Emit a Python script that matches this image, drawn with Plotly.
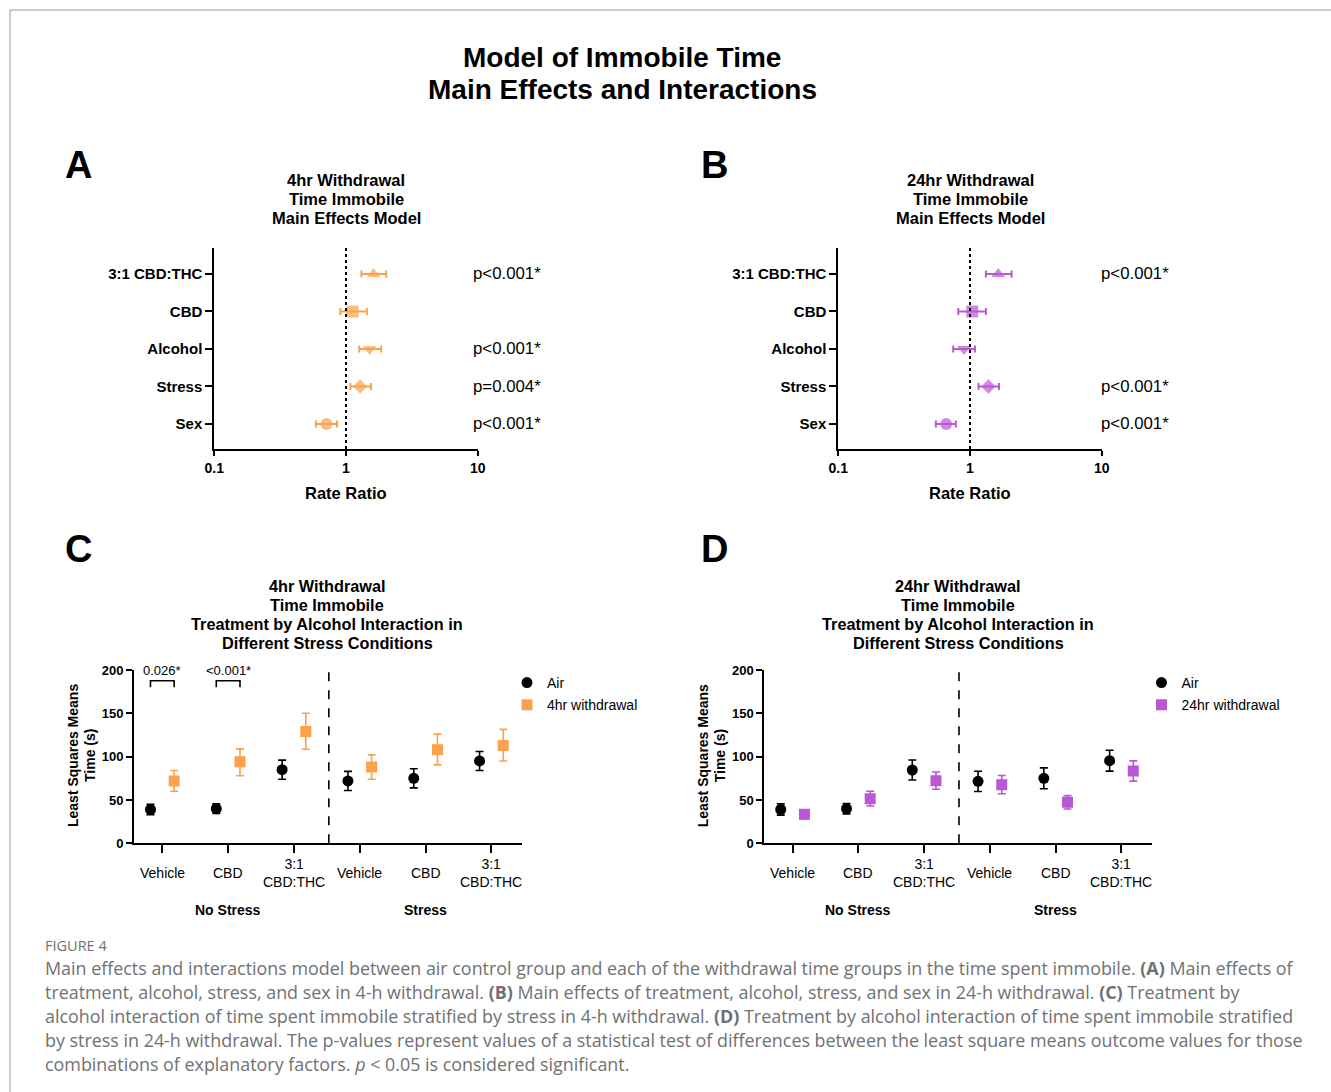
import plotly.graph_objects as go

W, H = 1331, 1092

# ---------------- data ----------------
effects = ["3:1 CBD:THC", "CBD", "Alcohol", "Stress", "Sex"]
effect_symbols = ["triangle-up", "square", "triangle-down", "diamond", "circle"]

a_rr = [1.62, 1.12, 1.51, 1.28, 0.71]
a_lo = [1.31, 0.905, 1.26, 1.08, 0.59]
a_hi = [2.02, 1.44, 1.85, 1.55, 0.855]
a_p = ["p<0.001*", "", "p<0.001*", "p=0.004*", "p<0.001*"]

b_rr = [1.64, 1.04, 0.90, 1.38, 0.66]
b_lo = [1.32, 0.815, 0.746, 1.16, 0.55]
b_hi = [2.07, 1.32, 1.09, 1.66, 0.78]
b_p = ["p<0.001*", "", "", "p<0.001*", "p<0.001*"]

treatments = ["Vehicle", "CBD", "3:1<br>CBD:THC", "Vehicle", "CBD", "3:1<br>CBD:THC"]
stress_groups = ["No Stress", "Stress"]

c_air = [39, 40, 85, 72, 75, 95]
c_air_err = [6, 5.5, 11, 11, 11, 11]
c_wd = [72, 94, 129, 88, 108, 113]
c_wd_up = [12, 15, 21, 14, 18, 18.5]
c_wd_dn = [12, 16, 20.5, 14, 17.5, 18]
c_brackets = [(0, "0.026*"), (1, "<0.001*")]

d_air = [39, 40, 84.6, 71.5, 75, 95.3]
d_air_err = [6.5, 6, 11.5, 11.7, 12, 12]
d_wd = [33.5, 51.5, 72.3, 67.7, 47.3, 83.4]
d_wd_err = [5, 8.5, 10, 10.5, 7.7, 11.7]

# ---------------- styles ----------------
ORANGE = "#F9A24B"
PURPLE = "#BA57D6"
FONT = "Liberation Sans, Arial, sans-serif"
CAP_FONT = "Open Sans, Lato, sans-serif"
CAP_COLOR = "#707173"


def px(x):
    return x / W


def py(y):
    return 1 - y / H


fig = go.Figure()


def ann(text, x, y, xref="paper", yref="paper", xanchor="center", yanchor="middle", size=14,
        family=FONT, color="black", **kw):
    fig.add_annotation(text=text, x=x, y=y, xref=xref, yref=yref, xanchor=xanchor, yanchor=yanchor,
                       showarrow=False, font=dict(family=family, size=size, color=color), **kw)


def title_lines(lines, cx, y0, step, size):
    for k, t in enumerate(lines):
        ann("<b>%s</b>" % t, px(cx), py(y0 + step * k), size=size)


# ---------------- forest plots A/B ----------------
ypos = list(range(len(effects) - 1, -1, -1))


def forest(rr, lo, hi, color, xa, ya):
    fig.add_trace(go.Scatter(
        x=rr, y=ypos, mode="markers", xaxis=xa, yaxis=ya, showlegend=False,
        marker=dict(symbol=effect_symbols, size=[12, 12, 12, 11, 12], color=color,
                    line=dict(width=0)),
        error_x=dict(type="data", symmetric=False,
                     array=[h - r for h, r in zip(hi, rr)],
                     arrayminus=[r - l for r, l in zip(rr, lo)],
                     color=color, thickness=2, width=3.5),
    ))


forest(a_rr, a_lo, a_hi, ORANGE, "x", "y")
forest(b_rr, b_lo, b_hi, PURPLE, "x2", "y2")

axis_common = dict(showline=True, linecolor="black", linewidth=2, ticks="outside",
                   tickcolor="black", tickwidth=2, showgrid=False, zeroline=False, automargin=False,
                   tickfont=dict(family=FONT, size=14, color="black", weight="bold"))

ydom_ab = [py(449), py(248)]
for i, (x0, x1) in enumerate([(214.3, 477.7), (838.3, 1101.7)]):
    xs = "" if i == 0 else "2"
    fig.update_layout(**{
        "xaxis" + xs: dict(axis_common, type="log", range=[-1, 1], domain=[px(x0), px(x1)],
                           tickvals=[0.1, 1, 10], ticktext=["0.1", "1", "10"], ticklen=5,
                           anchor="y" + xs),
        "yaxis" + xs: dict(axis_common, range=[-0.667, 4.693], domain=ydom_ab,
                           tickvals=ypos, ticktext=effects, ticklen=7, anchor="x" + xs,
                           tickfont=dict(family=FONT, size=15, color="black", weight="bold")),
    })
    fig.add_shape(type="line", xref="x" + xs, yref="y" + xs + " domain", x0=1, x1=1, y0=0, y1=1,
                  line=dict(color="black", width=2, dash="dot"))
    cx = (x0 + x1) / 2
    ann("<b>Rate Ratio</b>", px(cx), py(493), size=16.5)
    title_lines(["%s Withdrawal" % ("4hr" if i == 0 else "24hr"), "Time Immobile", "Main Effects Model"],
                cx, 180, 19, 16.5)

for ptxt, yv in zip(a_p, ypos):
    if ptxt:
        ann(ptxt, px(471), yv, yref="y", xanchor="left", size=16.8)
for ptxt, yv in zip(b_p, ypos):
    if ptxt:
        ann(ptxt, px(1099), yv, yref="y2", xanchor="left", size=16.8)

# ---------------- interaction plots C/D ----------------
cats = list(range(len(treatments)))
OFF = 0.18
x_air = [c - OFF for c in cats]
x_wd = [c + OFF for c in cats]


def interaction(air, air_err, wd, wd_up, wd_dn, color, wname, xa, ya, leg):
    fig.add_trace(go.Scatter(
        x=x_air, y=air, mode="markers", name="Air", xaxis=xa, yaxis=ya, legend=leg,
        legendgroup=leg + "a",
        marker=dict(symbol="circle", size=11, color="black"),
        error_y=dict(type="data", array=air_err, color="black", thickness=1.6, width=4),
    ))
    fig.add_trace(go.Scatter(
        x=x_wd, y=wd, mode="markers", name=wname, xaxis=xa, yaxis=ya, legend=leg,
        legendgroup=leg + "b",
        marker=dict(symbol="square", size=11, color=color),
        error_y=dict(type="data", symmetric=False, array=wd_up, arrayminus=wd_dn,
                     color=color, thickness=1.6, width=4),
    ))


interaction(c_air, c_air_err, c_wd, c_wd_up, c_wd_dn, ORANGE, "4hr withdrawal", "x3", "y3", "legend")
interaction(d_air, d_air_err, d_wd, d_wd_err, d_wd_err, PURPLE, "24hr withdrawal", "x4", "y4", "legend2")

ydom_cd = [py(843.3), py(670)]
for i, (x0, x1) in enumerate([(134, 521.7), (764.3, 1151.7)]):
    xs = str(3 + i)
    fig.update_layout(**{
        "xaxis" + xs: dict(axis_common, range=[-0.43, 5.46], domain=[px(x0), px(x1)],
                           tickvals=cats, ticktext=[""] * len(cats), ticklen=8, anchor="y" + xs),
        "yaxis" + xs: dict(axis_common, range=[0, 200], domain=ydom_cd, tickvals=[0, 50, 100, 150, 200],
                           ticklen=6, anchor="x" + xs,
                           tickfont=dict(family=FONT, size=13, color="black", weight="bold")),
    })
    fig.add_shape(type="line", xref="x" + xs, yref="y" + xs + " domain", x0=2.53, x1=2.53, y0=0, y1=1,
                  line=dict(color="black", width=1.6, dash="dash"))
    for c, lab in zip(cats, treatments):
        ann(lab, c, py(873), xref="x" + xs, size=14)
    for gi, g in enumerate(stress_groups):
        ann("<b>%s</b>" % g, 1 + 3 * gi, py(910), xref="x" + xs, size=14)
    ann("<b>Least Squares Means</b>", px(x0 - 61), py(756), size=14, textangle=-90)
    ann("<b>Time (s)</b>", px(x0 - 44), py(756), size=14, textangle=-90)
    cx = 327 + 631 * i
    title_lines(["%s Withdrawal" % ("4hr" if i == 0 else "24hr"), "Time Immobile",
                 "Treatment by Alcohol Interaction in", "Different Stress Conditions"],
                cx, 586, 19, 16.3)

# significance brackets in C
for c, txt in c_brackets:
    xa0, xa1 = c - OFF, c + OFF
    fig.add_shape(type="path", xref="x3", yref="y3",
                  path="M %f,180 L %f,187.6 L %f,187.6 L %f,180" % (xa0, xa0, xa1, xa1),
                  line=dict(color="black", width=1.6))
    ann(txt, c, 189, xref="x3", yref="y3", yanchor="bottom", size=13)

# ---------------- titles, letters ----------------
ann("<b>Model of Immobile Time</b>", px(622), py(57), size=28)
ann("<b>Main Effects and Interactions</b>", px(622), py(89), size=28)
for letter, lx, ly in [("A", 78, 165), ("B", 714, 165), ("C", 78, 549), ("D", 714, 549)]:
    ann("<b>%s</b>" % letter, px(lx), py(ly), size=38)

# ---------------- caption ----------------
caption = [
    "Main effects and interactions model between air control group and each of the withdrawal time groups in the time spent immobile. <b>(A)</b> Main effects of",
    "treatment, alcohol, stress, and sex in 4-h withdrawal. <b>(B)</b> Main effects of treatment, alcohol, stress, and sex in 24-h withdrawal. <b>(C)</b> Treatment by",
    "alcohol interaction of time spent immobile stratified by stress in 4-h withdrawal. <b>(D)</b> Treatment by alcohol interaction of time spent immobile stratified",
    "by stress in 24-h withdrawal. The p-values represent values of a statistical test of differences between the least square means outcome values for those",
    "combinations of explanatory factors. <i>p</i> < 0.05 is considered significant.",
]
ann("FIGURE 4", px(43), py(945), xanchor="left", size=14.5, family=CAP_FONT, color=CAP_COLOR)
for k, line in enumerate(caption):
    ann(line, px(43), py(968 + 24 * k), xanchor="left", size=17.9, family=CAP_FONT, color=CAP_COLOR)

# frame lines
fig.add_shape(type="line", xref="paper", yref="paper", x0=px(10), x1=1, y0=py(10), y1=py(10),
              line=dict(color="#9a9a9a", width=1))
fig.add_shape(type="line", xref="paper", yref="paper", x0=px(10), x1=px(10), y0=py(10), y1=0,
              line=dict(color="#9a9a9a", width=1))

leg_common = dict(font=dict(family=FONT, size=14, color="black"), bgcolor="rgba(0,0,0,0)",
                  xanchor="left", yanchor="top", tracegroupgap=1, itemclick=False)
fig.update_layout(
    width=W, height=H, margin=dict(l=0, r=0, t=0, b=0, autoexpand=False),
    paper_bgcolor="white", plot_bgcolor="white",
    legend=dict(leg_common, x=px(507), y=py(667)),
    legend2=dict(leg_common, x=px(1141.5), y=py(667)),
)

fig.write_html("out.html")
